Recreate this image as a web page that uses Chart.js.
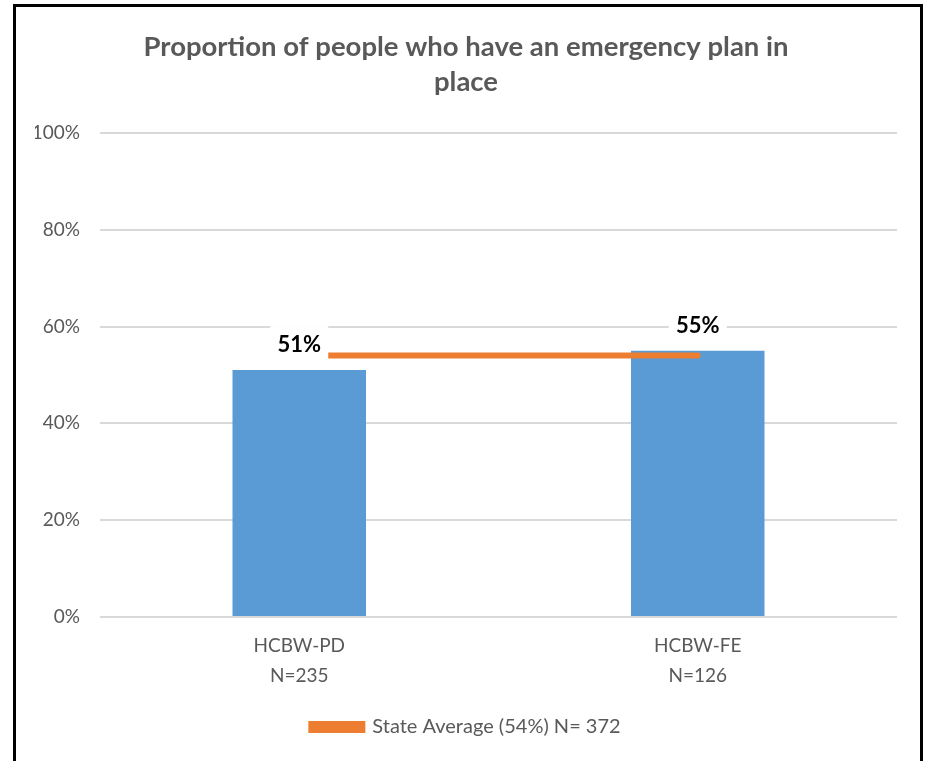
<!DOCTYPE html>
<html>
<head>
<meta charset="utf-8">
<script src="https://cdn.jsdelivr.net/npm/chart.js@4"></script>
<style>
  body { margin: 0; background: #fff; }
  #frame {
    position: absolute; left: 13px; top: 4px;
    width: 904px; height: 820px;
    border: 3px solid #000;
  }
  #chart { position: absolute; left: 0; top: 0; }
</style>
</head>
<body>
<div id="frame"></div>
<canvas id="chart" width="930" height="761"></canvas>
<script>
const categories = [["HCBW-PD", "N=235"], ["HCBW-FE", "N=126"]];
const planShare = [51, 55];
const stateAverage = [54, 54];
const averageLabel = "State Average (54%) N= 372";
const chartTitle = ["Proportion of people who have an emergency plan in", "place"];

const FONT = "Lato, 'Open Sans', sans-serif";

// white-boxed value labels above the bars, drawn over the average line
const barLabels = {
  id: "barLabels",
  afterDatasetsDraw(chart) {
    const ctx = chart.ctx;
    const meta = chart.getDatasetMeta(0);
    ctx.save();
    ctx.font = "bold 22px " + FONT;
    ctx.textAlign = "center";
    ctx.textBaseline = "middle";
    meta.data.forEach((bar, i) => {
      const x = bar.x;
      const y = bar.y - 25;
      ctx.fillStyle = "#fff";
      ctx.fillRect(x - 29, y - 19, 58, 37);
      ctx.fillStyle = "#000";
      ctx.fillText(planShare[i] + "%", x, y);
    });
    ctx.restore();
  }
};

new Chart(document.getElementById("chart"), {
  data: {
    labels: categories,
    datasets: [
      {
        type: "bar",
        label: "Proportion",
        data: planShare,
        backgroundColor: "#5B9BD5",
        barPercentage: 0.335,
        categoryPercentage: 1,
        order: 1
      },
      {
        type: "line",
        label: averageLabel,
        data: stateAverage,
        borderColor: "#ED7D31",
        backgroundColor: "#ED7D31",
        borderWidth: 6,
        borderCapStyle: "round",
        pointRadius: 0,
        order: 0
      }
    ]
  },
  plugins: [barLabels],
  options: {
    responsive: false,
    animation: false,
    layout: { padding: { left: 35, right: 33, top: 0, bottom: 14 } },
    scales: {
      y: {
        min: 0,
        max: 100,
        ticks: {
          stepSize: 20,
          callback: (v) => v + "%",
          color: "#595959",
          font: { family: FONT, size: 19 },
          padding: 20
        },
        grid: { color: "#D9D9D9", lineWidth: 2, drawTicks: false },
        border: { display: false },
        afterFit: (s) => { s.width = 65; }
      },
      x: {
        ticks: {
          color: "#595959",
          font: { family: FONT, size: 19, lineHeight: 1.58 },
          padding: 14
        },
        grid: { display: false, drawTicks: false },
        border: { display: false },
        afterFit: (s) => { s.height = 90; }
      }
    },
    plugins: {
      title: {
        display: true,
        text: chartTitle,
        color: "#595959",
        font: { family: FONT, size: 27.5, weight: "bold", lineHeight: 1.27 },
        padding: { top: 30, bottom: 33 }
      },
      legend: {
        position: "bottom",
        labels: {
          filter: (item) => item.datasetIndex === 1,
          color: "#595959",
          font: { family: FONT, size: 20 },
          boxWidth: 51,
          boxHeight: 6,
          padding: 10
        }
      },
      tooltip: { enabled: false }
    }
  }
});
</script>
</body>
</html>
